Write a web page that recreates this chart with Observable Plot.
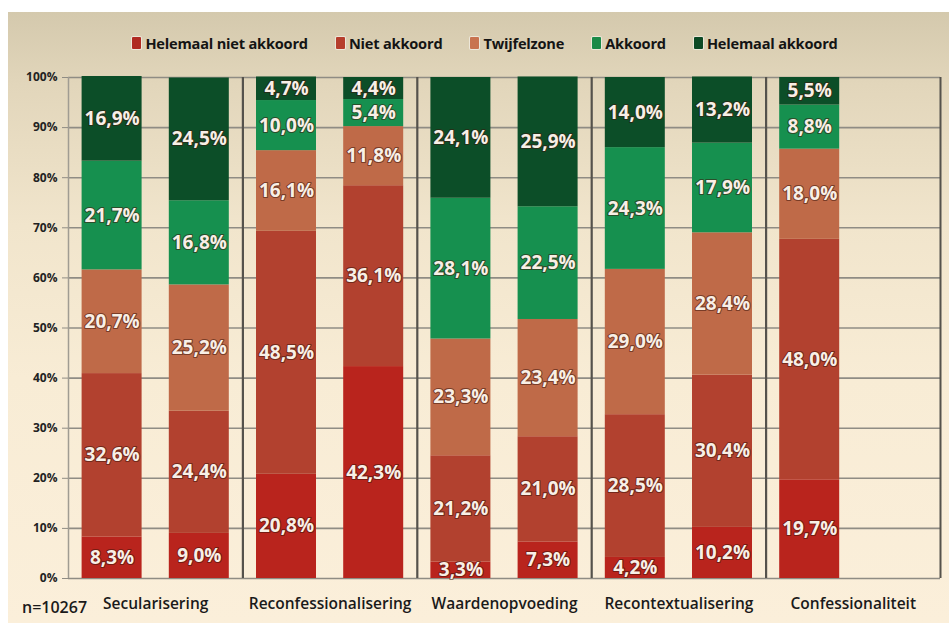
<!DOCTYPE html>
<html><head><meta charset="utf-8">
<script src="https://cdn.jsdelivr.net/npm/d3@7"></script>
<script src="https://cdn.jsdelivr.net/npm/@observablehq/plot@0.6"></script>
<style>
body{margin:0;background:#fff;width:949px;height:623px;overflow:hidden;position:relative;font-family:"Open Sans",sans-serif;}
#bg{position:absolute;left:8px;top:12px;width:941px;height:611px;background:linear-gradient(180deg,#d4c9ad 0%,#e2d6bb 12%,#f1e5cc 35%,#f8ecd5 60%,#fbefda 100%);}
#legend{position:absolute;left:0;top:33px;width:970px;display:flex;justify-content:center;gap:28px;font-size:14.6px;font-weight:700;color:#141414;letter-spacing:-0.2px;}
#legend .it{display:flex;align-items:center;gap:4px;}
#legend .sw{width:9px;height:12px;border-radius:1px;box-shadow:0 0 0 1px rgba(255,255,255,0.5);}
#chart{position:absolute;left:0;top:60px;}
#note{position:absolute;left:22px;top:596px;font-size:16px;font-weight:600;color:#1a1a1a;}
</style>
</head><body>
<div id="bg"></div>
<div id="legend"></div>
<div id="chart"></div>
<div id="note">n=10267</div>
<script>
const categories = ["Helemaal niet akkoord","Niet akkoord","Twijfelzone","Akkoord","Helemaal akkoord"];
const colors = ["#b9241d","#b2412f","#bf6a48","#16904f","#0c4e28"];
const legendColors = ["#b02a22","#b63e2c","#c8734f","#1a8a48","#0d4a25"];
const groups = ["Secularisering","Reconfessionalisering","Waardenopvoeding","Recontextualisering","Confessionaliteit"];
const barGroup = [0,0,1,1,2,2,3,3,4];
// values per category, one per bar (9 bars)
const helemaalNiet = [8.3, 9.0, 20.8, 42.3, 3.3, 7.3, 4.2, 10.2, 19.7];
const niet         = [32.6, 24.4, 48.5, 36.1, 21.2, 21.0, 28.5, 30.4, 48.0];
const twijfel      = [20.7, 25.2, 16.1, 11.8, 23.3, 23.4, 29.0, 28.4, 18.0];
const akkoord      = [21.7, 16.8, 10.0, 5.4, 28.1, 22.5, 24.3, 17.9, 8.8];
const helemaal     = [16.9, 24.5, 4.7, 4.4, 24.1, 25.9, 14.0, 13.2, 5.5];
const yTicks = [0,10,20,30,40,50,60,70,80,90,100];

const series = [helemaalNiet, niet, twijfel, akkoord, helemaal];
const half = 0.344;
const rows = [];
barGroup.forEach((g, i) => {
  let acc = 0;
  series.forEach((vals, c) => {
    const v = vals[i];
    rows.push({bar: i, cat: categories[c], value: v, y1: acc, y2: acc + v});
    acc += v;
  });
});
const groupCenters = groups.map((name, g) => {
  const idx = barGroup.map((gg, i) => gg === g ? i : null).filter(d => d !== null);
  return {name, x: idx.length === 1 ? idx[0] + 0.5 : d3.mean(idx)};
});
const separators = [1.5, 3.5, 5.5, 7.5];

// legend
const leg = document.getElementById("legend");
categories.forEach((c, i) => {
  const it = document.createElement("div"); it.className = "it";
  const sw = document.createElement("span"); sw.className = "sw"; sw.style.background = legendColors[i];
  const t = document.createElement("span"); t.textContent = c;
  it.appendChild(sw); it.appendChild(t); leg.appendChild(it);
});

const fmt = v => v.toFixed(1).replace(".", ",") + "%";

const chart = Plot.plot({
  width: 949,
  height: 563,
  marginTop: 17,
  marginBottom: 45,
  marginLeft: 68,
  marginRight: 9,
  style: {background: "transparent", fontFamily: "Open Sans, sans-serif", overflow: "visible"},
  x: {domain: [-0.5, 9.5], axis: null},
  y: {domain: [0, 100], ticks: yTicks, tickFormat: d => d + "%", tickSize: 6, tickPadding: 5, label: null},
  color: {domain: categories, range: colors},
  marks: [
    Plot.ruleY(yTicks, {x1: -0.5, x2: 9.5, stroke: "#8f8c84", strokeWidth: 1.6}),
    Plot.ruleX([-0.5], {y1: 0, y2: 100, stroke: "#a09c92", strokeWidth: 1.5}),
    Plot.ruleX(separators, {y1: 0, y2: 100, stroke: "#55524c", strokeWidth: 2.2}),
    Plot.ruleX([9.5], {y1: 0, y2: 100, stroke: "#55524c", strokeWidth: 2}),
    Plot.rect(rows, {x1: d => d.bar - half, x2: d => d.bar + half, y1: "y1", y2: "y2", fill: "cat"}),
    Plot.text(rows, {x: "bar", y: d => (d.y1 + d.y2) / 2, text: d => fmt(d.value), fill: "#f8efe6", stroke: "rgba(60,20,10,0.55)", strokeWidth: 2.2, fontSize: 19, fontWeight: 700, paintOrder: "stroke"}),
    Plot.axisY({ticks: yTicks, tickFormat: d => d + "%", tickSize: 6, tickPadding: 5, fontSize: 12, fontWeight: 700, fill: "#222", stroke: "#8f8c84", label: null}),
    Plot.text(groupCenters, {x: "x", y: 0, text: "name", dy: 26, fontSize: 15.5, fontWeight: 600, fill: "#1a1a1a"})
  ]
});
document.getElementById("chart").appendChild(chart);
</script>
</body></html>
